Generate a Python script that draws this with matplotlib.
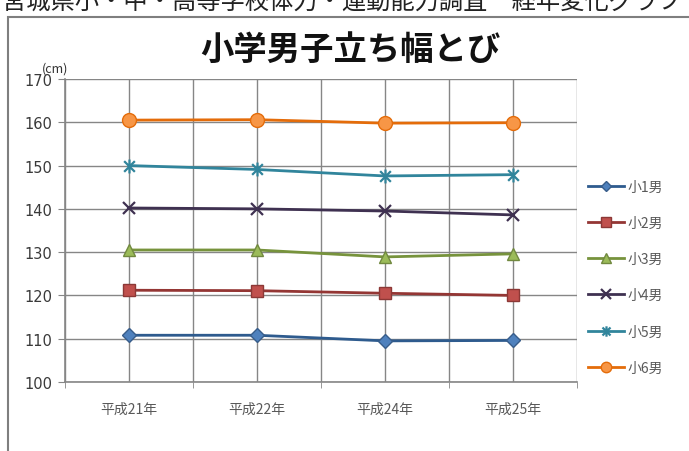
import matplotlib
matplotlib.use("Agg")
import matplotlib.pyplot as plt
from matplotlib.path import Path
from matplotlib.patches import Rectangle
import numpy as np

plt.rcParams['font.family'] = ['Noto Sans CJK JP', 'DejaVu Sans']

# Data
years = ["平成21年", "平成22年", "平成24年", "平成25年"]
grade1 = [110.8, 110.8, 109.5, 109.6]
grade2 = [121.2, 121.1, 120.5, 120.0]
grade3 = [130.5, 130.5, 128.9, 129.6]
grade4 = [140.2, 140.0, 139.5, 138.6]
grade5 = [150.0, 149.1, 147.6, 147.9]
grade6 = [160.5, 160.6, 159.8, 159.9]
labels = ["小1男", "小2男", "小3男", "小4男", "小5男", "小6男"]
y_ticks = [100, 110, 120, 130, 140, 150, 160, 170]

# Excel-style "star" marker: an x with a vertical stroke
star_path = Path(
    [(-1, -1), (1, 1), (-1, 1), (1, -1), (0, -1.3), (0, 1.3)],
    [Path.MOVETO, Path.LINETO, Path.MOVETO, Path.LINETO, Path.MOVETO, Path.LINETO],
)

styles = [
    dict(color='#2E5B8E', marker='D', ms=7, mfc='#4F81BD', mec='#385D8A'),
    dict(color='#943634', marker='s', ms=9, mfc='#C0504D', mec='#8C3836'),
    dict(color='#77933C', marker='^', ms=9, mfc='#9BBB59', mec='#71893F'),
    dict(color='#3F3151', marker='x', ms=9, mfc='none', mec='#3F3151', mew=1.6),
    dict(color='#31859C', marker=star_path, ms=10, mfc='none', mec='#31859C', mew=1.6),
    dict(color='#E46C0A', marker='o', ms=10, mfc='#F79646', mec='#E46C0A'),
]
series = [grade1, grade2, grade3, grade4, grade5, grade6]

W, H = 689, 452
fig = plt.figure(figsize=(W / 100, H / 100), dpi=100)

# Caption above the chart frame (partly cut off at the top edge)
fig.text(2 / W, 1 - 2 / H, "宮城県小・中・高等学校体力・運動能力調査　経年変化グラフ",
         fontsize=17.5, color='#222222', ha='left', va='center')

# Chart frame
fig.patches.append(Rectangle((8 / W, -0.05), 1.0, 1 - 18 / H + 0.05,
                             transform=fig.transFigure, fill=False,
                             edgecolor='#7F7F7F', linewidth=1.5))

left, right, top, bottom = 65, 577, 80, 383
ax = fig.add_axes([left / W, 1 - bottom / H, (right - left) / W, (bottom - top) / H])

x = np.arange(len(years))
for vals, lab, st in zip(series, labels, styles):
    ax.plot(x, vals, label=lab, lw=2.0, **st)

ax.set_xlim(-0.5, len(years) - 0.5)
ax.set_ylim(100, 170)
ax.set_yticks(y_ticks)
ax.set_yticklabels([str(v) for v in y_ticks], fontsize=10.5, color='#3A3A3A',
                   family=['DejaVu Sans'])

ax.set_xticks(x)
ax.set_xticklabels(years, fontsize=10, color='#595959')
ax.set_xticks(np.arange(-0.5, len(years), 1.0), minor=True)
ax.tick_params(axis='x', which='major', length=0, pad=14)
ax.tick_params(axis='x', which='minor', length=4, direction='out', color='#868686')
ax.tick_params(axis='y', length=5, direction='out', color='#868686', pad=4)

for yv in y_ticks:
    ax.axhline(yv, color='#868686', lw=1, zorder=0)
for xv in np.arange(-0.5, len(years), 0.5):
    ax.axvline(xv, color='#868686', lw=1, zorder=0)

for s in ['top', 'right']:
    ax.spines[s].set_visible(False)
for s in ['left', 'bottom']:
    ax.spines[s].set_color('#868686')
    ax.spines[s].set_linewidth(1.2)

ax.text(-0.58, 171.0, "(cm)", fontsize=9, color='#333333', ha='center', va='bottom',
        transform=ax.transData, clip_on=False)

fig.text(350 / W, 1 - 50 / H, "小学男子立ち幅とび", fontsize=24, fontweight='bold',
         color='#111111', ha='center', va='center')

leg = ax.legend(loc='upper left', bbox_to_anchor=((582 - left) / (right - left), 1 - (175 - top) / (bottom - top)),
                frameon=False, fontsize=10, handlelength=2.6, labelspacing=1.6,
                handletextpad=0.3, borderaxespad=0, markerscale=0.75)
for t in leg.get_texts():
    t.set_color('#595959')

fig.savefig("out.png", dpi=100)
